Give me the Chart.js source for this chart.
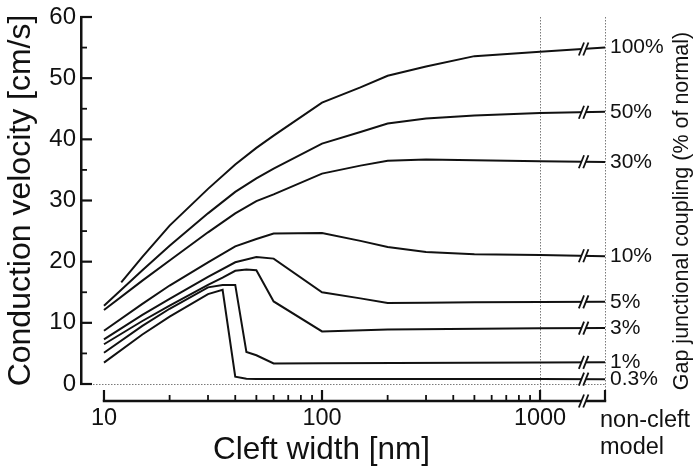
<!DOCTYPE html>
<html>
<head>
<meta charset="utf-8">
<script src="https://cdn.jsdelivr.net/npm/chart.js@4.4.1/dist/chart.umd.min.js"></script>
<style>
html,body{margin:0;padding:0;background:#fff;}
#wrap{width:700px;height:473px;}
</style>
</head>
<body>
<div id="wrap"><canvas id="c" width="700" height="473"></canvas></div>
<script>
// ---------------- data ----------------
const CLEFT_WIDTHS = [10, 12, 15, 20, 30, 35, 40, 45, 50, 60, 100, 150, 200, 300, 500, 1000];
const NON_CLEFT_X = 1986;            // where the "non-cleft model" column sits on the axis
const BREAK_X = 1585;                // axis break between 1000 and the non-cleft column
const COUPLING_LABELS = ['100%', '50%', '30%', '10%', '5%', '3%', '1%', '0.3%'];

const CV_100 = [null, 16.6, 20.8, 25.9, 31.9, null, 35.9, null, 38.6, 40.6, 46.0, 48.5, 50.4, 51.9, 53.6, 54.3];
const CV_50  = [12.8, null, 18.6, 22.6, 27.9, null, 31.4, null, 33.6, 35.2, 39.3, 41.2, 42.6, 43.4, 43.9, 44.3];
const CV_30  = [12.1, null, 16.9, 20.2, 24.8, null, 27.9, null, 29.9, 31.0, 34.4, 35.7, 36.5, 36.7, 36.6, 36.4];
const CV_10  = [8.7,  null, 13.1, 16.1, 19.9, null, 22.5, null, 23.7, 24.6, 24.7, 23.4, 22.4, 21.6, 21.2, 21.1];
const CV_5   = [7.3,  null, 11.3, 13.9, 17.5, null, 19.9, null, 20.75, 20.5, 15.0, 14.0, 13.25, 13.3, 13.35, 13.4];
const CV_3   = [6.5,  null, 10.3, 12.8, 16.2, 17.4, 18.5, 18.7, 18.6, 13.5, 8.6, null, 8.9, null, null, 9.1];
const CV_1   = [5.1,  null, 9.5, 12.3, 15.8, 16.2, 16.2, 5.25, 4.7, 3.35, 3.4, null, null, null, null, 3.5];
const CV_03  = [3.5,  null, 8.1, 11.0, 14.7, 15.4, 1.2, 0.85, 0.8, null, 0.8, null, null, null, null, 0.8];
const NON_CLEFT_CV = [55.0, 44.5, 36.3, 20.9, 13.45, 9.15, 3.55, 0.78];

const X_TICKS = [10, 100, 1000];
const X_MINOR_TICKS = [20, 30, 40, 50, 60, 70, 80, 90, 200, 300, 400, 500, 600, 700, 800, 900];
const Y_MINOR_TICKS = [5, 15, 25, 35, 45, 55];
const NON_CLEFT_LABEL = ['non-cleft', 'model'];
const X_TITLE = 'Cleft width [nm]';
const Y_TITLE = 'Conduction velocity [cm/s]';
const RIGHT_TITLE = 'Gap junctional coupling (% of normal)';

// ---------------- style ----------------
const FONT = "'Liberation Sans', Arial, Helvetica, sans-serif";
const INK = '#111111';
const SERIES = [CV_100, CV_50, CV_30, CV_10, CV_5, CV_3, CV_1, CV_03];

const datasets = SERIES.map((vals, i) => ({
  label: COUPLING_LABELS[i],
  data: CLEFT_WIDTHS.map((w, j) => ({x: w, y: vals[j]}))
        .filter(p => p.y !== null)
        .concat([{x: NON_CLEFT_X, y: NON_CLEFT_CV[i]}]),
  borderColor: INK,
  borderWidth: 2,
  pointRadius: 0,
  tension: 0,
  fill: false,
  yAxisID: 'y'
}));

const AXIS_DROP = 17; // x axis drawn below the plot area

function seg(ctx, x1, y1, x2, y2) { ctx.beginPath(); ctx.moveTo(x1, y1); ctx.lineTo(x2, y2); ctx.stroke(); }

function drawBreak(ctx, bx, by) {
  const g = 2.2, d = 2.6, h = 6.5;
  ctx.save();
  ctx.setLineDash([]);
  ctx.fillStyle = '#ffffff';
  ctx.beginPath();
  ctx.moveTo(bx - g - d, by + h); ctx.lineTo(bx - g + d, by - h);
  ctx.lineTo(bx + g + d, by - h); ctx.lineTo(bx + g - d, by + h);
  ctx.closePath(); ctx.fill();
  ctx.strokeStyle = INK; ctx.lineWidth = 1.8;
  seg(ctx, bx - g - d, by + h, bx - g + d, by - h);
  seg(ctx, bx + g - d, by + h, bx + g + d, by - h);
  ctx.restore();
}

const decor = {
  id: 'decor',
  beforeDatasetsDraw(chart) {
    const {ctx, chartArea: a, scales: {x, y}} = chart;
    const axisY = a.bottom + AXIS_DROP;
    ctx.save();
    ctx.strokeStyle = '#7a7a7a';
    ctx.lineWidth = 1;
    ctx.setLineDash([1.5, 1.5]);
    for (const v of [1000, NON_CLEFT_X]) {
      const px = Math.round(x.getPixelForValue(v)) + 0.5;
      seg(ctx, px, a.top, px, axisY);
    }
    const py = Math.round(y.getPixelForValue(0)) + 0.5;
    seg(ctx, a.left, py, x.getPixelForValue(NON_CLEFT_X), py);
    ctx.restore();
  },
  afterDatasetsDraw(chart) {
    const {ctx, scales: {x, y}} = chart;
    const bx = x.getPixelForValue(BREAK_X);
    const x1 = x.getPixelForValue(1000), x2 = x.getPixelForValue(NON_CLEFT_X);
    SERIES.forEach((vals, i) => {
      const y1 = y.getPixelForValue(vals[vals.length - 1]);
      const y2 = y.getPixelForValue(NON_CLEFT_CV[i]);
      const by = y1 + (y2 - y1) * (bx - x1) / (x2 - x1);
      drawBreak(ctx, bx, by);
    });
  },
  afterDraw(chart) {
    const {ctx, chartArea: a, scales: {x, y}} = chart;
    const axisY = a.bottom + AXIS_DROP;
    ctx.save();
    ctx.strokeStyle = INK;
    ctx.setLineDash([]);
    // y tick marks (inward)
    ctx.lineWidth = 2.2;
    for (let v = 0; v <= 60; v += 10) {
      const py = y.getPixelForValue(v);
      seg(ctx, a.left - 1, py, a.left + 11, py);
    }
    ctx.lineWidth = 1.8;
    for (const v of Y_MINOR_TICKS) {
      const py = y.getPixelForValue(v);
      seg(ctx, a.left, py, a.left + 6, py);
    }
    // x axis line with break
    const x10 = x.getPixelForValue(10), xnc = x.getPixelForValue(NON_CLEFT_X), bx = x.getPixelForValue(BREAK_X);
    ctx.lineWidth = 2.5;
    seg(ctx, x10 - 1.2, axisY, xnc + 1.2, axisY);
    // x tick marks (upward)
    ctx.lineWidth = 2.2;
    for (const v of X_TICKS.concat([NON_CLEFT_X])) {
      const px = x.getPixelForValue(v);
      seg(ctx, px, axisY, px, axisY - 11);
    }
    ctx.lineWidth = 1.8;
    for (const v of X_MINOR_TICKS) {
      const px = x.getPixelForValue(v);
      seg(ctx, px, axisY, px, axisY - 6);
    }
    drawBreak(ctx, bx, axisY);
    ctx.restore();

    // texts
    ctx.save();
    ctx.fillStyle = INK;
    ctx.textBaseline = 'alphabetic';
    ctx.textAlign = 'left';
    ctx.font = `23.5px ${FONT}`;
    ctx.fillText(NON_CLEFT_LABEL[0], xnc - 5, 427);
    ctx.fillText(NON_CLEFT_LABEL[1], xnc - 5, 454);
    ctx.textAlign = 'center';
    ctx.font = `31.5px ${FONT}`;
    ctx.fillText(X_TITLE, 321.5, 459);
    ctx.translate(688, 211);
    ctx.rotate(-Math.PI / 2);
    ctx.font = `21.5px ${FONT}`;
    ctx.fillText(RIGHT_TITLE, 0, 0);
    ctx.restore();
  }
};

new Chart(document.getElementById('c'), {
  type: 'line',
  data: {datasets},
  options: {
    responsive: false,
    animation: false,
    devicePixelRatio: 1,
    layout: {padding: {top: 14, left: 0, right: 0, bottom: 0}},
    plugins: {legend: {display: false}, tooltip: {enabled: false}},
    scales: {
      x: {
        type: 'logarithmic',
        min: 7.845,
        max: NON_CLEFT_X,
        grid: {display: false, drawTicks: false},
        border: {display: false},
        afterBuildTicks: s => { s.ticks = X_TICKS.map(v => ({value: v})); },
        afterFit: s => { s.height = 89; },
        ticks: {
          autoSkip: false, maxRotation: 0,
          callback: v => String(v),
          color: INK,
          font: {family: FONT, size: 23.5},
          padding: 20
        }
      },
      y: {
        position: 'left',
        min: 0, max: 60,
        grid: {display: false, drawTicks: false},
        border: {display: true, color: INK, width: 2.5},
        afterFit: s => { s.width = 81; },
        ticks: {
          stepSize: 10,
          color: INK,
          font: {family: FONT, size: 24, lineHeight: 1},
          padding: 5
        },
        title: {
          display: true,
          text: Y_TITLE,
          color: INK,
          font: {family: FONT, size: 32},
          padding: {top: 2, bottom: 0}
        }
      },
      y2: {
        position: 'right',
        min: 0, max: 60,
        grid: {display: false, drawTicks: false},
        border: {display: false},
        afterBuildTicks: s => { s.ticks = NON_CLEFT_CV.slice().sort((p, q) => p - q).map(v => ({value: v})); },
        afterFit: s => { s.width = 95; },
        ticks: {
          autoSkip: false,
          callback: v => COUPLING_LABELS[NON_CLEFT_CV.indexOf(v)],
          color: INK,
          font: {family: FONT, size: 21, lineHeight: 1},
          padding: 5
        }
      }
    }
  },
  plugins: [decor]
});
</script>
</body>
</html>
